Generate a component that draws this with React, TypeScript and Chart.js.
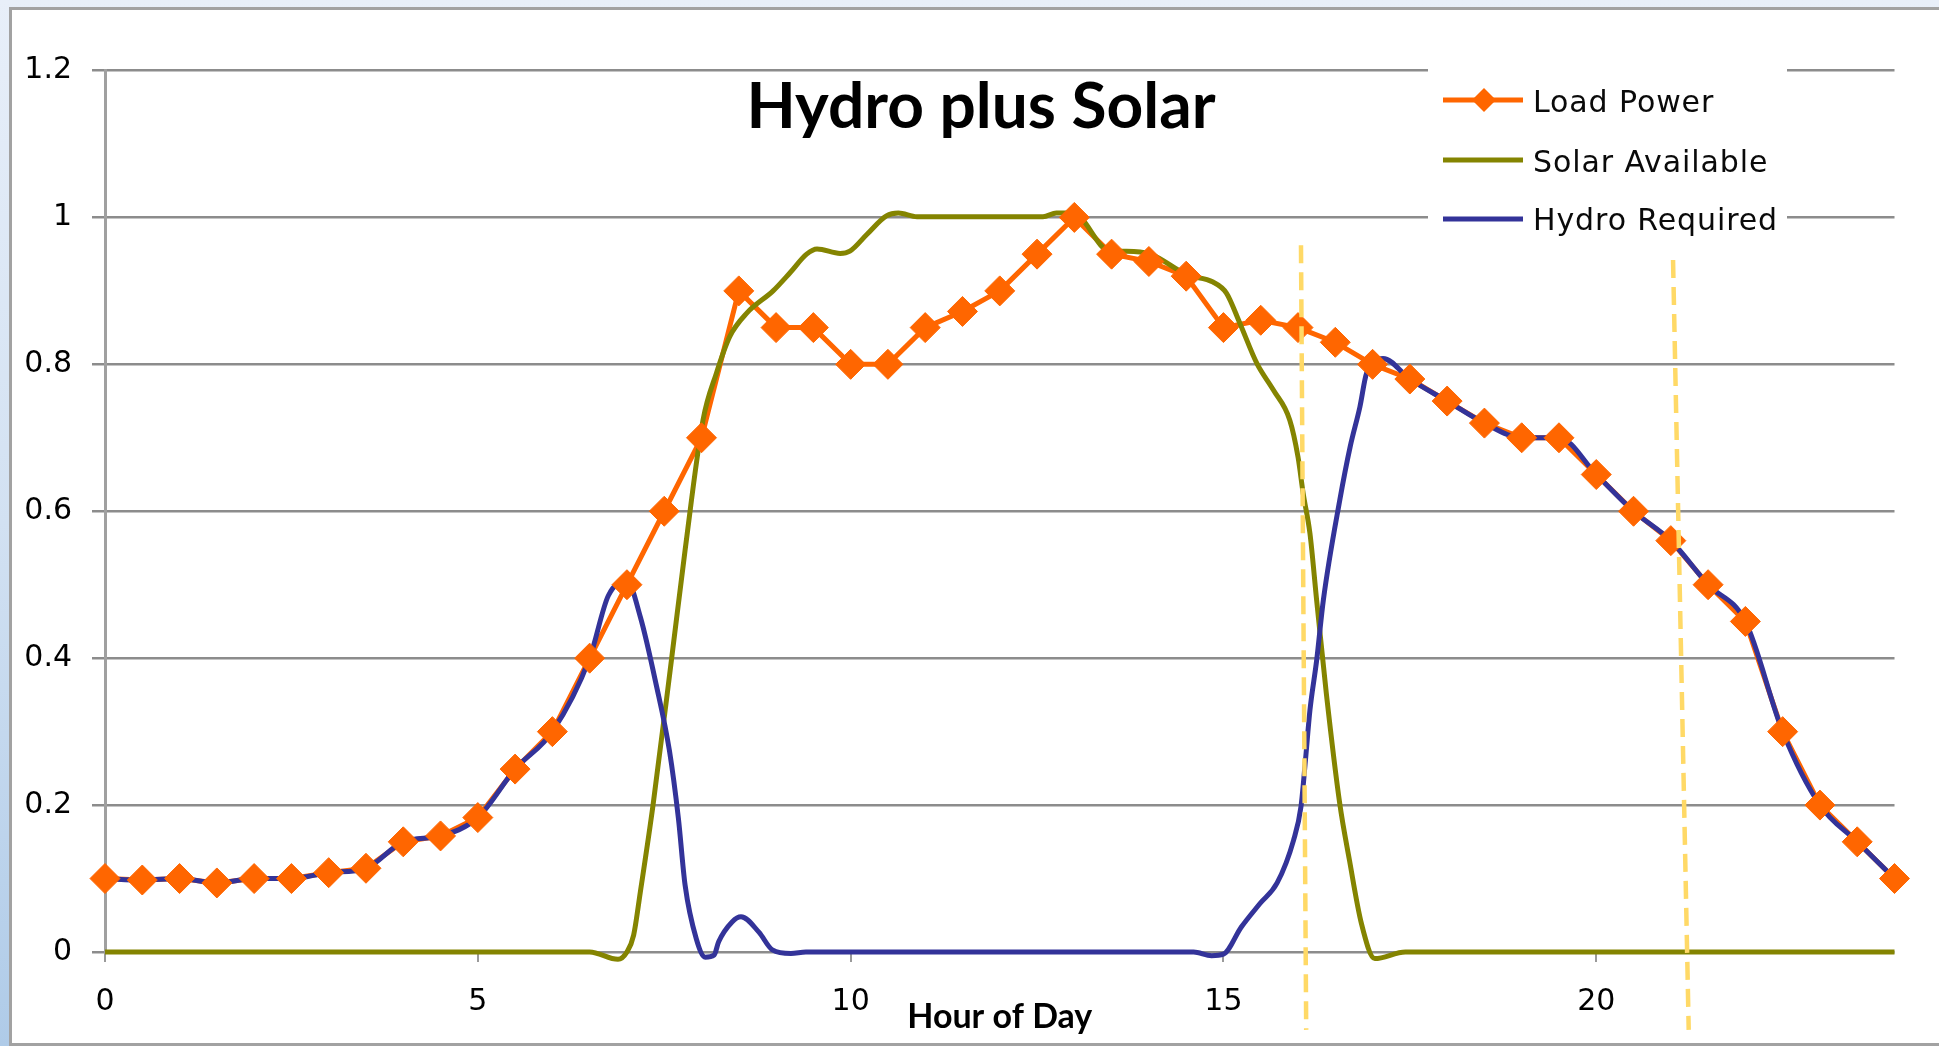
import React, { useEffect, useRef } from "react";
import { Chart, registerables } from "chart.js";

Chart.register(...registerables);

// ---------- data ----------
const chartTitle = "Hydro plus Solar";
const xAxisTitle = "Hour of Day";
const seriesNames = ["Load Power", "Solar Available", "Hydro Required"];

const loadHours = [
  0, 0.5, 1, 1.5, 2, 2.5, 3, 3.5, 4, 4.5, 5, 5.5, 6, 6.5, 7, 7.5, 8, 8.5, 9, 9.5,
  10, 10.5, 11, 11.5, 12, 12.5, 13, 13.5, 14, 14.5, 15, 15.5, 16, 16.5, 17, 17.5,
  18, 18.5, 19, 19.5, 20, 20.5, 21, 21.5, 22, 22.5, 23, 23.5, 24,
];
const loadValues = [
  0.1, 0.098, 0.1, 0.094, 0.1, 0.1, 0.108, 0.114, 0.15, 0.158, 0.183, 0.249, 0.3,
  0.4, 0.5, 0.6, 0.7, 0.9, 0.85, 0.85, 0.8, 0.8, 0.85, 0.872, 0.9, 0.95, 1.0, 0.95,
  0.94, 0.92, 0.85, 0.86, 0.85, 0.83, 0.8, 0.78, 0.75, 0.72, 0.7, 0.7, 0.65, 0.6,
  0.56, 0.5, 0.45, 0.3, 0.2, 0.15, 0.1,
];

const solarHours = [
  0, 6.5, 6.88, 7.0, 7.09, 7.18, 7.35, 7.6, 7.78, 8.02, 8.2, 8.38, 8.61, 8.96, 9.19,
  9.41, 9.55, 9.86, 9.99, 10.22, 10.48, 10.64, 10.89, 12.58, 12.76, 12.98, 13.48,
  13.7, 14.02, 14.51, 14.86, 15.04, 15.22, 15.45, 15.67, 15.89, 16.0, 16.07, 16.16,
  16.25, 16.38, 16.56, 16.69, 16.85, 17.03, 17.44, 24,
];
const solarValues = [
  0, 0, -0.01, 0, 0.023, 0.082, 0.2, 0.4, 0.547, 0.724, 0.788, 0.838, 0.87, 0.9,
  0.925, 0.95, 0.957, 0.951, 0.954, 0.977, 1.002, 1.006, 1.001, 1.001, 1.006, 1.006,
  0.954, 0.954, 0.95, 0.922, 0.912, 0.897, 0.856, 0.801, 0.765, 0.724, 0.674, 0.624,
  0.57, 0.479, 0.352, 0.202, 0.125, 0.039, -0.009, 0, 0,
];

const hydroHours = [
  0, 0.5, 1, 1.5, 2, 2.5, 3, 3.5, 4, 4.5, 5, 5.5, 6, 6.5, 6.75, 7.0, 7.18, 7.39,
  7.57, 7.69, 7.78, 7.93, 8.05, 8.17, 8.23, 8.41, 8.53, 8.77, 8.95, 9.2, 9.4, 14.6,
  14.84, 15.0, 15.24, 15.49, 15.72, 15.94, 16.04, 16.1, 16.16, 16.25, 16.34, 16.56,
  16.7, 16.83, 16.92, 17.14, 17.5, 18, 18.5, 19, 19.5, 20, 20.5, 21, 21.5, 22, 22.5,
  23, 23.5, 24,
];
const hydroValues = [
  0.1, 0.098, 0.1, 0.094, 0.1, 0.1, 0.108, 0.114, 0.15, 0.158, 0.183, 0.249, 0.3,
  0.4, 0.485, 0.505, 0.456, 0.365, 0.274, 0.182, 0.091, 0.018, -0.007, -0.004, 0.014,
  0.041, 0.048, 0.027, 0.003, -0.002, 0, 0, -0.005, -0.003, 0.034, 0.066, 0.094,
  0.152, 0.198, 0.261, 0.329, 0.397, 0.479, 0.615, 0.688, 0.742, 0.788, 0.808, 0.78,
  0.75, 0.72, 0.7, 0.7, 0.65, 0.6, 0.56, 0.5, 0.45, 0.3, 0.2, 0.15, 0.1,
];

// hand-drawn dashed annotation lines (hour, value) at top and bottom
const markA_Hours = [16.04, 16.11];
const markA_Values = [0.962, -0.106];
const markB_Hours = [21.03, 21.24];
const markB_Values = [0.942, -0.106];

const xTickValues = [0, 5, 10, 15, 20];
const yTickLabels = ["0", "0.2", "0.4", "0.6", "0.8", "1", "1.2"];

// ---------- styles ----------
const ORANGE = "#FF6600";
const OLIVE = "#848400";
const NAVY = "#333399";
const DASH = "#FFD966";
const GRID = "#8c8c8c";

const pts = (xs: number[], ys: number[]) => xs.map((x, i) => ({ x, y: ys[i] }));

const overlayPlugin = {
  id: "overlay",
  afterDraw(chart: any) {
    const ctx = chart.ctx as CanvasRenderingContext2D;
    const a = chart.chartArea;
    ctx.save();
    // chart title inside plot
    ctx.fillStyle = "#000";
    ctx.textAlign = "center";
    ctx.textBaseline = "alphabetic";
    ctx.font = "bold 64px Lato";
    ctx.fillText(chartTitle, 981, 128);
    // x axis title
    ctx.font = "bold 34px Lato";
    ctx.fillText(xAxisTitle, (a.left + a.right) / 2, 1028);

    // legend
    ctx.fillStyle = "#ffffff";
    ctx.fillRect(1428, 58, 359, 182);
    const colors = [ORANGE, OLIVE, NAVY];
    const lineY = [100, 160, 219];
    const baseY = [112, 171.5, 230];
    for (let i = 0; i < 3; i++) {
      ctx.strokeStyle = colors[i];
      ctx.lineWidth = 5;
      ctx.lineCap = "butt";
      ctx.beginPath();
      ctx.moveTo(1443, lineY[i]);
      ctx.lineTo(1523, lineY[i]);
      ctx.stroke();
      if (i === 0) {
        ctx.fillStyle = ORANGE;
        ctx.beginPath();
        const cx = 1484, cy = lineY[i], r = 12;
        ctx.moveTo(cx, cy - r);
        ctx.lineTo(cx + r, cy);
        ctx.lineTo(cx, cy + r);
        ctx.lineTo(cx - r, cy);
        ctx.closePath();
        ctx.fill();
      }
      ctx.fillStyle = "#0a0a0a";
      ctx.textAlign = "left";
      ctx.font = "30px 'DejaVu Sans'";
      (ctx as any).letterSpacing = "0.9px";
      ctx.fillText(seriesNames[i], 1533, baseY[i]);
      (ctx as any).letterSpacing = "0px";
    }
    ctx.restore();
  },
};

export default function App() {
  const ref = useRef<HTMLCanvasElement>(null);

  useEffect(() => {
    if (!ref.current) return;
    const chart = new Chart(ref.current, {
      type: "line",
      data: {
        datasets: [
          {
            label: "markA",
            data: pts(markA_Hours, markA_Values),
            borderColor: DASH,
            borderWidth: 4.5,
            borderDash: [18, 9],
            pointRadius: 0,
            clip: false,
            order: 0,
          } as any,
          {
            label: "markB",
            data: pts(markB_Hours, markB_Values),
            borderColor: DASH,
            borderWidth: 4.5,
            borderDash: [18, 9],
            pointRadius: 0,
            clip: false,
            order: 0,
          } as any,
          {
            label: seriesNames[0] + " markers",
            data: pts(loadHours, loadValues),
            showLine: false,
            pointStyle: "rectRot",
            pointRadius: 15,
            pointBackgroundColor: ORANGE,
            pointBorderColor: ORANGE,
            pointBorderWidth: 1,
            clip: 20,
            order: 1,
          } as any,
          {
            label: seriesNames[2],
            data: pts(hydroHours, hydroValues),
            borderColor: NAVY,
            borderWidth: 5,
            pointRadius: 0,
            cubicInterpolationMode: "monotone",
            borderJoinStyle: "round",
            clip: 10,
            order: 2,
          } as any,
          {
            label: seriesNames[1],
            data: pts(solarHours, solarValues),
            borderColor: OLIVE,
            borderWidth: 5,
            pointRadius: 0,
            cubicInterpolationMode: "monotone",
            borderJoinStyle: "round",
            clip: 10,
            order: 3,
          } as any,
          {
            label: seriesNames[0],
            data: pts(loadHours, loadValues),
            borderColor: ORANGE,
            borderWidth: 5,
            pointRadius: 0,
            tension: 0,
            borderJoinStyle: "round",
            order: 4,
          },
        ],
      },
      options: {
        responsive: false,
        animation: false,
        events: [],
        layout: { padding: { left: 0, right: 44.5, top: 70.5, bottom: 0 } },
        plugins: {
          legend: { display: false },
          title: { display: false },
          tooltip: { enabled: false },
        },
        scales: {
          x: {
            type: "linear",
            min: 0,
            max: 24,
            afterFit: (s: any) => {
              s.height = 94;
            },
            afterBuildTicks: (s: any) => {
              s.ticks = xTickValues.map((v) => ({ value: v }));
            },
            ticks: {
              font: { family: "'DejaVu Sans'", size: 30 },
              color: "#000",
              padding: 22,
              maxRotation: 0,
              autoSkip: false,
            },
            grid: {
              drawOnChartArea: false,
              drawTicks: true,
              tickLength: 10,
              color: "#9a9a9a",
              lineWidth: 2,
            },
            border: { display: false },
          },
          y: {
            min: 0,
            max: 1.2,
            afterFit: (s: any) => {
              s.width = 105;
            },
            ticks: {
              stepSize: 0.2,
              font: { family: "'DejaVu Sans'", size: 30 },
              color: "#000",
              padding: 20,
              callback: (_v: any, i: number) => yTickLabels[i],
            },
            grid: {
              color: GRID,
              lineWidth: 2.5,
              tickLength: 13,
            },
            border: { display: true, color: "#a0a0a0", width: 3 },
          },
        },
      },
      plugins: [overlayPlugin],
    });
    return () => chart.destroy();
  }, []);

  return (
    <div
      style={{
        position: "fixed",
        left: 0,
        top: 0,
        width: 1939,
        height: 1046,
        overflow: "hidden",
        background: "linear-gradient(to bottom, #e8eff9 0%, #d2e1f2 50%, #afcbe8 100%)",
      }}
    >
      <div
        style={{
          position: "absolute",
          left: 9,
          top: 7,
          width: 1940,
          height: 1039,
          background: "#ffffff",
          border: "3px solid #a2a2a2",
          borderRight: "none",
          boxSizing: "border-box",
        }}
      />
      <canvas
        ref={ref}
        width={1939}
        height={1046}
        style={{ position: "absolute", left: 0, top: 0, width: 1939, height: 1046 }}
      />
    </div>
  );
}
